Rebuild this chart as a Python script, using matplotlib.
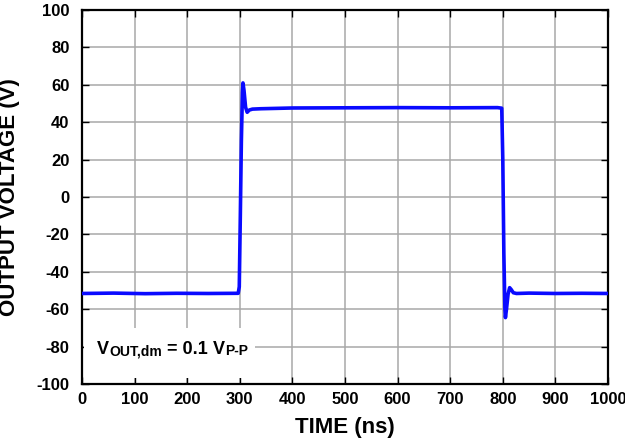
"""Differential output pulse response, output voltage vs time."""
import matplotlib
matplotlib.use("Agg")
import matplotlib.pyplot as plt
from matplotlib.patches import Rectangle
from matplotlib.transforms import offset_copy

# waveform breakpoints (ns, V)
time_ns = [0, 60, 120, 180, 240, 297, 299, 301, 303, 305, 306, 308, 311, 314,
           318, 324, 340, 400, 500, 600, 700, 790, 798, 800, 802, 804, 805,
           807, 810, 813, 816, 820, 826, 850, 900, 950, 1000]
vout = [-51.6, -51.4, -51.7, -51.5, -51.6, -51.5, -48.0, -10.0, 30.0, 56.0,
        61.0, 57.0, 48.0, 45.3, 46.5, 47.0, 47.2, 47.6, 47.7, 47.8, 47.7,
        47.8, 47.5, 20.0, -30.0, -60.0, -64.5, -60.0, -52.0, -48.5, -49.5,
        -51.2, -51.6, -51.4, -51.6, -51.5, -51.6]

x_ticks = [0, 100, 200, 300, 400, 500, 600, 700, 800, 900, 1000]
y_ticks = [-100, -80, -60, -40, -20, 0, 20, 40, 60, 80, 100]

# annotation pieces: (text, font size, baseline shift px)
note_parts = [("V", 13, 0), ("OUT,dm", 10, -1), (" = 0.1 ", 13, 0),
              ("V", 13, 0), ("P-P", 10, -1)]

plt.rcParams["font.family"] = ["Liberation Sans", "DejaVu Sans"]
plt.rcParams["font.weight"] = "bold"
plt.rcParams["axes.unicode_minus"] = False

fig = plt.figure(figsize=(6.25, 4.41), dpi=100)
ax = fig.add_axes([0.1312, 0.1293, 0.8416, 0.848])

ax.plot(time_ns, vout, color="#0a0aff", lw=2.6, solid_joinstyle="round",
        zorder=3)

ax.set_xlim(0, 1000)
ax.set_ylim(-100, 100)
ax.set_xticks(x_ticks)
ax.set_yticks(y_ticks)
ax.set_axisbelow(True)
ax.grid(True, color="#a8a8a8", lw=1.1)
ax.tick_params(direction="in", length=5, width=1, top=True, right=True,
               labelsize=12, pad=6, colors="black")
ax.tick_params(axis="y", pad=9)
for lab in ax.get_xticklabels() + ax.get_yticklabels():
    lab.set_fontweight("bold")
for sp in ax.spines.values():
    sp.set_linewidth(1.6)

ax.set_xlabel("TIME (ns)", fontsize=16, fontweight="bold")
ax.set_ylabel("OUTPUT VOLTAGE (V)", fontsize=16, fontweight="bold")
ax.xaxis.set_label_coords(0.5, -0.088)
ax.yaxis.set_label_coords(-0.117, 0.5)

# white patch behind the annotation
ax.add_patch(Rectangle((0.003, 0.016), 0.326, 0.134, transform=ax.transAxes,
                       facecolor="white", edgecolor="none", zorder=1))

renderer = fig.canvas.get_renderer()
dx = 0.0
for txt, size, dy in note_parts:
    tr = offset_copy(ax.transAxes, fig=fig, x=dx, y=dy, units="dots")
    t = ax.text(0.029, 0.080, txt, transform=tr, fontsize=size,
                fontweight="bold", va="baseline", ha="left", zorder=4)
    dx += t.get_window_extent(renderer).width

fig.savefig("out.png", dpi=100)
